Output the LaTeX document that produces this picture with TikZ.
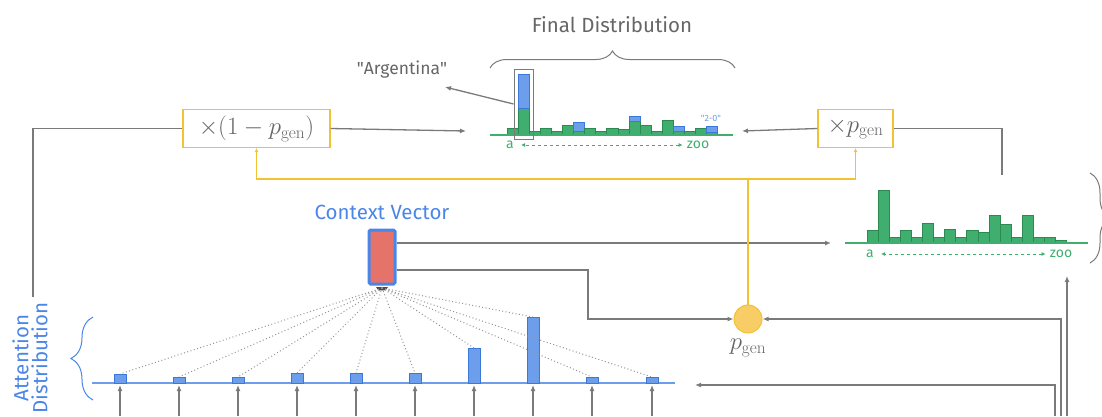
\documentclass[tikz,border=0pt]{standalone}
\usepackage[no-math]{fontspec}
\setmainfont{Fira Sans}
\usetikzlibrary{arrows.meta,decorations.pathreplacing,calc}

\definecolor{linegray}{HTML}{7A7A7A}
\definecolor{txtgray}{HTML}{666666}
\definecolor{attnblue}{HTML}{6D9EEB}
\definecolor{attnedge}{HTML}{3C78D8}
\definecolor{ctxblue}{HTML}{4A86E8}
\definecolor{vocgreen}{HTML}{3FAE6F}
\definecolor{vocedge}{HTML}{2A8A50}
\definecolor{gold}{HTML}{F1C232}
\definecolor{goldfill}{HTML}{F8CD66}
\definecolor{ctxred}{HTML}{E5736A}

\tikzset{
  conn/.style={draw=linegray, line width=1.3pt},
  arrowconn/.style={conn, -{Latex[length=6pt,width=5pt]}},
  yelconn/.style={draw=gold, line width=1.3pt},
  yelarrow/.style={yelconn, -{Latex[length=4pt,width=4pt]}},
  mulbox/.style={draw=gold, line width=1.3pt, fill=white, inner sep=0pt,
    minimum height=38pt, text=txtgray, font=\fontsize{26.5}{29}\selectfont},
  greenbar/.style={fill=vocgreen, draw=vocedge, line width=0.9pt},
  bluebar/.style={fill=attnblue, draw=attnedge, line width=0.9pt},
  axislab/.style={text=vocgreen, font=\fontsize{14}{15}\selectfont, inner sep=0pt},
  axisarrow/.style={draw=vocgreen, line width=1pt, dashed,
    {Latex[length=4pt,width=4pt]}-{Latex[length=4pt,width=4pt]}},
  bracegray/.style={draw=linegray, line width=1pt, decorate},
  attline/.style={draw=linegray!80, line width=1pt, dash pattern=on 1pt off 2.4pt},
}

\begin{document}
\begin{tikzpicture}[x=1pt,y=-1pt]
\useasboundingbox (0,0) rectangle (1102,416);
\clip (0,0) rectangle (1102,416);

% ---------------- final distribution ----------------
\node[text=txtgray, font=\fontsize{20.5}{23}\selectfont] (finaltitle) at (612,25) {Final Distribution};
\draw[bracegray, decoration={brace, amplitude=17pt}] (490,68) -- (735,68);

\foreach \g/\b [count=\i] in {128/0,108/74,131/0,128/0,131/0,125/0,131/122,128/0,131/0,128/0,
                              129/0,121/116,125/0,131/0,120/0,131/126,131/0,128/0,132/126}{
  \pgfmathsetmacro{\xl}{507+11.1*(\i-1)}
  \pgfmathsetmacro{\xr}{\xl+11.1}
  \path[greenbar] (\xl,135) rectangle (\xr,\g);
  \ifnum\b>0 \path[bluebar] (\xl,\g) rectangle (\xr,\b); \fi
}
\draw[draw=vocgreen, line width=1.3pt] (490,135) -- (733,135);
\node[axislab] (fa) at (510,145) {a};
\node[axislab] (fz) at (698,145) {zoo};
\draw[axisarrow] ([xshift=-4pt]fz.west) -- ([xshift=7pt]fa.east);
\node[text=attnblue, font=\fontsize{9}{10}\selectfont, inner sep=0pt] (twozero) at (711,118) {\textquotedbl 2-0\textquotedbl};

\node[draw=linegray, line width=1pt, minimum width=19pt, minimum height=70pt, inner sep=0pt] (argbox) at (523.5,104) {};
\node[text=txtgray, font=\fontsize{17.5}{19}\selectfont] (arg) at (402,70) {\textquotedbl Argentina\textquotedbl};
\coordinate (argtip) at (445,87);
\draw[arrowconn] (argbox.west) -- (argtip);

\coordinate (fleft) at (466,131);
\coordinate (fright) at (742,131);

% ---------------- multiplier boxes ----------------
\node[mulbox, minimum width=147pt] (m1) at (256.5,128.5) {$\times(1-p_{\mathrm{gen}})$};
\node[mulbox, minimum width=75pt] (m2) at (855.5,128.5) {$\times p_{\mathrm{gen}}$};
\draw[arrowconn] (m1.east) -- (fleft);
\draw[arrowconn] (m2.west) -- (fright);

% ---------------- vocabulary distribution ----------------
\foreach \t [count=\i] in {230,190,237,230,237,223,237,229,237,230,232,215,224,237,215,237,237,240}{
  \pgfmathsetmacro{\xl}{867+11.1*(\i-1)}
  \pgfmathsetmacro{\xr}{\xl+11.1}
  \path[greenbar] (\xl,243) rectangle (\xr,\t);
}
\draw[draw=vocgreen, line width=1.3pt] (845,243) -- (1088,243);
\node[axislab] (va) at (870,254) {a};
\node[axislab] (vz) at (1061,254) {zoo};
\draw[axisarrow] ([xshift=-4pt]vz.west) -- ([xshift=7pt]va.east);
\draw[bracegray, decoration={brace, amplitude=20pt}] (1090,173) -- (1090,263);
\coordinate (vin) at (831,243);
\coordinate (vtop) at (1002,175);
\coordinate (vbottom) at (1067,276);
\draw[conn] (vtop) |- (m2.east);

% ---------------- context vector and p_gen ----------------
\node[text=ctxblue, font=\fontsize{20.5}{23}\selectfont] (ctxlabel) at (382,212) {Context Vector};
\node[draw=ctxblue, fill=ctxred, line width=3pt, rounded corners=1.5pt,
      minimum width=26pt, minimum height=54pt, inner sep=0pt] (ctx) at (382,257) {};
\fill[linegray!60!black] ([xshift=-6pt,yshift=-1.5pt]ctx.south)
  arc[start angle=180, end angle=360, x radius=6pt, y radius=3.5pt] -- cycle;
\coordinate (ctxfocus) at (382,288);

\node[circle, draw=gold, fill=goldfill, line width=1pt, minimum size=28pt, inner sep=0pt] (pg) at (748,319) {};
\node[text=txtgray, font=\fontsize{27}{30}\selectfont] (pglabel) at (748,348) {$p_{\mathrm{gen}}$};

\draw[arrowconn] ([yshift=14pt]ctx.east) -- (vin);
\draw[arrowconn] ([yshift=-13pt]ctx.east) -- (588,270) -- (588,319) -- (pg.west);

\coordinate (yj) at (748,179);
\draw[yelconn] (pg.north) -- (yj);
\draw[yelarrow] (yj) -| (m1.south);
\draw[yelarrow] (yj) -| (m2.south);

% ---------------- attention distribution ----------------
\node[text=ctxblue, font=\fontsize{20.5}{19}\selectfont, align=center, rotate=90, inner sep=0pt] (attlabel) at (30,358) {Attention\\Distribution};
\draw[draw=ctxblue, line width=1pt, decorate, decoration={brace, amplitude=22pt}] (93,400) -- (93,317);
\coordinate (attlead) at (33,297);
\draw[conn] (attlead) |- (m1.west);

\draw[draw=attnblue, line width=1.5pt] (92,383) -- (675,383);
\foreach \xc/\t [count=\i] in {120/374,179/377,238/377,297/373,356/373,415/373,474/348,533/317,592/377,652/377}{
  \path[bluebar] (\xc-6,383) rectangle (\xc+6,\t);
  \coordinate (att\i) at (\xc,\t);
  \coordinate (base\i) at (\xc,385);
  \coordinate (tok\i) at (\xc,416);
  \draw[attline] (ctxfocus) -- (att\i);
  \draw[arrowconn] (tok\i) -- (base\i);
}

% ---------------- decoder inputs from the right ----------------
\coordinate (dec1) at (1055,416);
\coordinate (dec2) at (1061,416);
\coordinate (dec3) at (1067,416);
\coordinate (attin) at (695,385);
\draw[arrowconn] (dec1) |- (attin);
\draw[arrowconn] (dec2) |- (pg.east);
\draw[arrowconn] (dec3) -- (vbottom);
\end{tikzpicture}
\end{document}
